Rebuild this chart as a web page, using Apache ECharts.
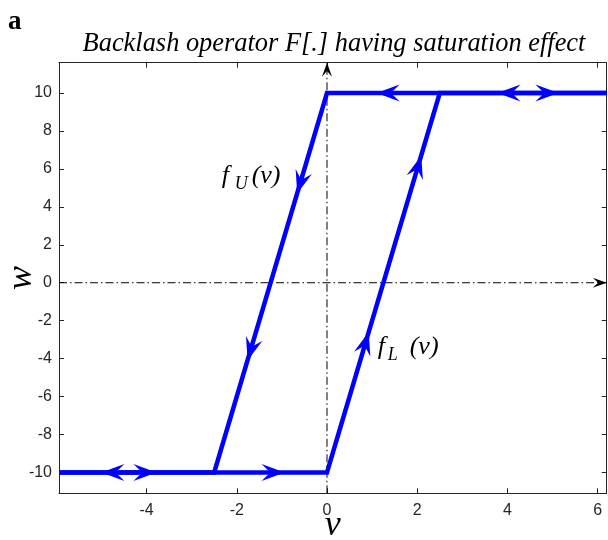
<!DOCTYPE html>
<html>
<head>
<meta charset="utf-8">
<script src="https://cdn.jsdelivr.net/npm/echarts@6/dist/echarts.min.js"></script>
<style>
  html, body { margin: 0; padding: 0; background: #fff; }
  #chart { width: 608px; height: 540px; }
</style>
</head>
<body>
<div id="chart"></div>
<script>
// Axis ranges and tick values
const V_MIN = -5.94, V_MAX = 6.2;
const W_MIN = -11.1, W_MAX = 11.6;
const vTicks = [-4, -2, 0, 2, 4, 6];
const wTicks = [-10, -8, -6, -4, -2, 0, 2, 4, 6, 8, 10];

// Backlash branches (saturation at +/-10, slope 8 per unit of v)
const lowerBranchV = [-5.94, 0, 2.5, 6.2];
const lowerBranchW = [-10, -10, 10, 10];
const upperBranchV = [-5.94, -2.5, 0, 6.2];
const upperBranchW = [-10, -10, 10, 10];

// Direction arrows: tip position and direction of travel
const arrowV  = [-5.0, -3.78, -0.94, 1.1, 3.78, 5.13, -0.66, -1.76, 2.09, 0.925];
const arrowW  = [-10, -10, -10, 10, 10, 10, 4.7, -4.1, 6.7, -2.6];
const arrowDv = [-1, 1, 1, -1, -1, 1, -2.5, -2.5, 2.5, 2.5];
const arrowDw = [0, 0, 0, 0, 0, 0, -20, -20, 20, 20];

// Origin axes (dash-dot) with their end arrows
const originAxisV = [[0, W_MIN], [0, W_MAX]];
const originAxisW = [[V_MIN, 0], [V_MAX, 0]];
const axisArrowV  = [0, V_MAX];
const axisArrowW  = [W_MAX, 0];
const axisArrowDv = [0, 1];
const axisArrowDw = [1, 0];

// Branch labels
const branchLabels = [
  { v: -2.335, w: 5.6, main: 'f', sub: 'U', tail: '(v)' },
  { v: 1.124, w: -3.40, main: 'f', sub: 'L', tail: '(v)' }
];

const zip = (a, b) => a.map((x, i) => [x, b[i]]);

function arrowRenderer(len, half, notch, color) {
  return function (params, api) {
    const v = api.value(0), w = api.value(1);
    const p = api.coord([v, w]);
    const q = api.coord([v + api.value(2) * 0.01, w + api.value(3) * 0.01]);
    const a = Math.atan2(q[1] - p[1], q[0] - p[0]);
    const c = Math.cos(a), s = Math.sin(a);
    const local = [[0, 0], [-len, -half], [-len * notch, 0], [-len, half]];
    const pts = local.map(([x, y]) => [p[0] + x * c - y * s, p[1] + x * s + y * c]);
    return { type: 'polygon', shape: { points: pts }, style: { fill: color } };
  };
}

const SERIF = '"Liberation Serif", "Times New Roman", serif';
const SANS = '"Liberation Sans", Arial, Helvetica, sans-serif';
const AXIS_COLOR = '#262626';

const chart = echarts.init(document.getElementById('chart'), null, { renderer: 'canvas' });

const baseX = {
  type: 'value', min: V_MIN, max: V_MAX,
  axisLine: { show: true, onZero: false, lineStyle: { color: AXIS_COLOR, width: 1 } },
  axisTick: { show: true, inside: true, length: 5, customValues: vTicks, lineStyle: { color: AXIS_COLOR } },
  splitLine: { show: false }
};
const baseY = {
  type: 'value', min: W_MIN, max: W_MAX,
  axisLine: { show: true, onZero: false, lineStyle: { color: AXIS_COLOR, width: 1 } },
  axisTick: { show: true, inside: true, length: 5, customValues: wTicks, lineStyle: { color: AXIS_COLOR } },
  splitLine: { show: false }
};

chart.setOption({
  animation: false,
  backgroundColor: '#fff',
  title: {
    text: 'Backlash operator F[.] having saturation effect',
    left: 329, top: 26, textAlign: 'center',
    textStyle: { fontFamily: SERIF, fontStyle: 'italic', fontWeight: 'normal', fontSize: 26.4, color: '#000' }
  },
  graphic: [{
    type: 'text', left: 8, top: 9,
    style: { text: 'a', font: 'bold 27px ' + SERIF, fill: '#000' }
  }],
  grid: { left: 59, right: 1.3, top: 62.7, bottom: 46.7, containLabel: false, outerBoundsMode: 'none' },
  xAxis: [
    Object.assign({}, baseX, {
      position: 'bottom',
      axisLabel: { customValues: vTicks, fontFamily: SANS, fontSize: 16, color: AXIS_COLOR, margin: 9 },
      name: 'v', nameLocation: 'middle', nameGap: 32, nameMoveOverlap: false,
      nameTextStyle: { fontFamily: SERIF, fontStyle: 'italic', fontSize: 36, color: '#000', verticalAlign: 'middle', align: 'center' }
    }),
    Object.assign({}, baseX, { position: 'top', axisLabel: { show: false } })
  ],
  yAxis: [
    Object.assign({}, baseY, {
      position: 'left',
      axisLabel: { customValues: wTicks, fontFamily: SANS, fontSize: 16, color: AXIS_COLOR, margin: 7 },
      name: 'w', nameLocation: 'middle', nameGap: 37, nameMoveOverlap: false,
      nameTextStyle: { fontFamily: SERIF, fontStyle: 'italic', fontSize: 36, color: '#000', verticalAlign: 'middle', align: 'center' }
    }),
    Object.assign({}, baseY, { position: 'right', axisLabel: { show: false } })
  ],
  series: [
    {
      type: 'line', data: originAxisV, symbol: 'none', z: 1,
      lineStyle: { color: '#000', width: 1, type: [8, 3, 1.5, 3] }
    },
    {
      type: 'line', data: originAxisW, symbol: 'none', z: 1,
      lineStyle: { color: '#000', width: 1, type: [8, 3, 1.5, 3] }
    },
    {
      type: 'line', data: zip(lowerBranchV, lowerBranchW), symbol: 'none', z: 3,
      lineStyle: { color: '#0000ff', width: 4.5, join: 'miter' }
    },
    {
      type: 'line', data: zip(upperBranchV, upperBranchW), symbol: 'none', z: 3,
      lineStyle: { color: '#0000ff', width: 4.5, join: 'miter' }
    },
    {
      type: 'custom', z: 4, clip: false,
      data: arrowV.map((v, i) => [v, arrowW[i], arrowDv[i], arrowDw[i]]),
      renderItem: arrowRenderer(23, 8.5, 0.62, '#0000ff')
    },
    {
      type: 'custom', z: 5, clip: false,
      data: axisArrowV.map((v, i) => [v, axisArrowW[i], axisArrowDv[i], axisArrowDw[i]]),
      renderItem: arrowRenderer(14, 5, 0.6, '#000')
    },
    {
      type: 'custom', z: 6, clip: false,
      data: branchLabels.map(d => [d.v, d.w]),
      renderItem: function (params, api) {
        const d = branchLabels[params.dataIndex];
        const p = api.coord([api.value(0), api.value(1)]);
        const subDx = d.sub === 'U' ? 13 : 10;
        const tailDx = d.sub === 'U' ? 30 : 32;
        return {
          type: 'group',
          children: [
            { type: 'text', x: p[0], y: p[1],
              style: { text: d.main, font: 'italic 26px ' + SERIF, fill: '#000', verticalAlign: 'middle', align: 'left' } },
            { type: 'text', x: p[0] + subDx, y: p[1] + 8,
              style: { text: d.sub, font: 'italic 18px ' + SERIF, fill: '#000', verticalAlign: 'middle', align: 'left' } },
            { type: 'text', x: p[0] + tailDx, y: p[1],
              style: { text: d.tail, font: 'italic 26px ' + SERIF, fill: '#000', verticalAlign: 'middle', align: 'left' } }
          ]
        };
      }
    }
  ]
});
</script>
</body>
</html>
